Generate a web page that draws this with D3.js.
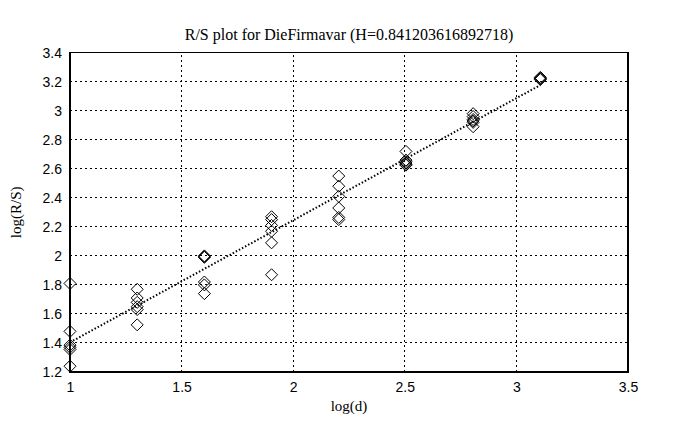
<!DOCTYPE html>
<html><head><meta charset="utf-8">
<script src="https://cdn.jsdelivr.net/npm/d3@7"></script>
<style>body{margin:0;background:#fff}svg{display:block}
.serif{font-family:"Liberation Serif","Times New Roman",serif}
.sans{font-family:"Liberation Sans",Arial,sans-serif}</style>
</head><body>
<svg id="c" width="686" height="430"></svg>
<script>
const title = "R/S plot for DieFirmavar (H=0.841203616892718)";
const xLabel = "log(d)";
const yLabel = "log(R/S)";
const xTicks = [1, 1.5, 2, 2.5, 3, 3.5];
const yTicks = [1.2, 1.4, 1.6, 1.8, 2, 2.2, 2.4, 2.6, 2.8, 3, 3.2, 3.4];
const logD = [1, 1.30103, 1.60206, 1.90309, 2.20412, 2.50515, 2.80618, 3.10721];
const rsValues = [
  [1.81, 1.48, 1.385, 1.37, 1.355, 1.24],
  [1.77, 1.71, 1.68, 1.65, 1.63, 1.525],
  [2.0, 1.995, 1.99, 1.82, 1.80, 1.74],
  [2.27, 2.25, 2.21, 2.17, 2.09, 1.87],
  [2.55, 2.48, 2.41, 2.33, 2.265, 2.25],
  [2.72, 2.66, 2.65, 2.64, 2.63, 2.625],
  [2.98, 2.96, 2.94, 2.93, 2.92, 2.89],
  [3.23, 3.225, 3.22, 3.215]
];
const hurst = 0.841203616892718;
const intercept = 0.563;

const svg = d3.select("#c");
const m = {l:70, r:58, t:52.7, b:58};
const W = 686, H = 430;
const x = d3.scaleLinear().domain([1, 3.5]).range([m.l, W - m.r]);
const y = d3.scaleLinear().domain([1.2, 3.4]).range([H - m.b, m.t]);

const g = svg.append("g");
g.append("g").selectAll("line").data(xTicks.slice(1, -1)).join("line")
  .attr("x1", d => x(d)).attr("x2", d => x(d)).attr("y1", y(1.2)).attr("y2", y(3.4))
  .attr("stroke", "#000").attr("stroke-width", 1).attr("stroke-dasharray", "2,3")
  .attr("shape-rendering", "crispEdges");
g.append("g").selectAll("line").data(yTicks.slice(1, -1)).join("line")
  .attr("y1", d => y(d)).attr("y2", d => y(d)).attr("x1", x(1)).attr("x2", x(3.5))
  .attr("stroke", "#000").attr("stroke-width", 1).attr("stroke-dasharray", "2,3")
  .attr("shape-rendering", "crispEdges");
g.append("rect").attr("x", x(1)).attr("y", y(3.4)).attr("width", x(3.5) - x(1)).attr("height", y(1.2) - y(3.4))
  .attr("fill", "none").attr("stroke", "#000").attr("stroke-width", 1.2).attr("shape-rendering", "crispEdges");

const xAxis = d3.axisBottom(x).tickValues(xTicks).tickSize(0).tickPadding(10).tickFormat(d3.format("~g"));
const yAxis = d3.axisLeft(y).tickValues(yTicks).tickSize(0).tickPadding(8).tickFormat(d3.format("~g"));
const gx = svg.append("g").attr("transform", `translate(0,${y(1.2)})`).call(xAxis);
const gy = svg.append("g").attr("transform", `translate(${x(1)},0)`).call(yAxis);
[gx, gy].forEach(a => {
  a.select(".domain").remove();
  a.attr("font-family", null).attr("font-size", null);
  a.selectAll("text").attr("class", "sans").style("font-size", "14px").attr("fill", "#000");
});

const lineData = [logD[0], logD[logD.length - 1]];
svg.append("line")
  .attr("x1", x(lineData[0])).attr("y1", y(intercept + hurst * lineData[0]))
  .attr("x2", x(lineData[1])).attr("y2", y(intercept + hurst * lineData[1]))
  .attr("stroke", "#000").attr("stroke-width", 2).attr("stroke-dasharray", "1.5,2");

const pts = [];
logD.forEach((xv, i) => rsValues[i].forEach(v => pts.push([xv, v])));
const s = 6;
svg.append("g").selectAll("path").data(pts).join("path")
  .attr("d", d => `M${x(d[0])},${y(d[1]) - s}L${x(d[0]) + s},${y(d[1])}L${x(d[0])},${y(d[1]) + s}L${x(d[0]) - s},${y(d[1])}Z`)
  .attr("fill", "none").attr("stroke", "#000").attr("stroke-width", 1);

svg.append("text").attr("class", "serif").attr("x", (x(1) + x(3.5)) / 2).attr("y", 40).attr("text-anchor", "middle")
  .style("font-size", "16px").text(title);
svg.append("text").attr("class", "serif").attr("x", (x(1) + x(3.5)) / 2).attr("y", 411).attr("text-anchor", "middle")
  .style("font-size", "15px").text(xLabel);
svg.append("text").attr("class", "serif").attr("transform", `translate(21,${(y(1.2) + y(3.4)) / 2}) rotate(-90)`).attr("text-anchor", "middle")
  .style("font-size", "15px").text(yLabel);
</script>
</body></html>
